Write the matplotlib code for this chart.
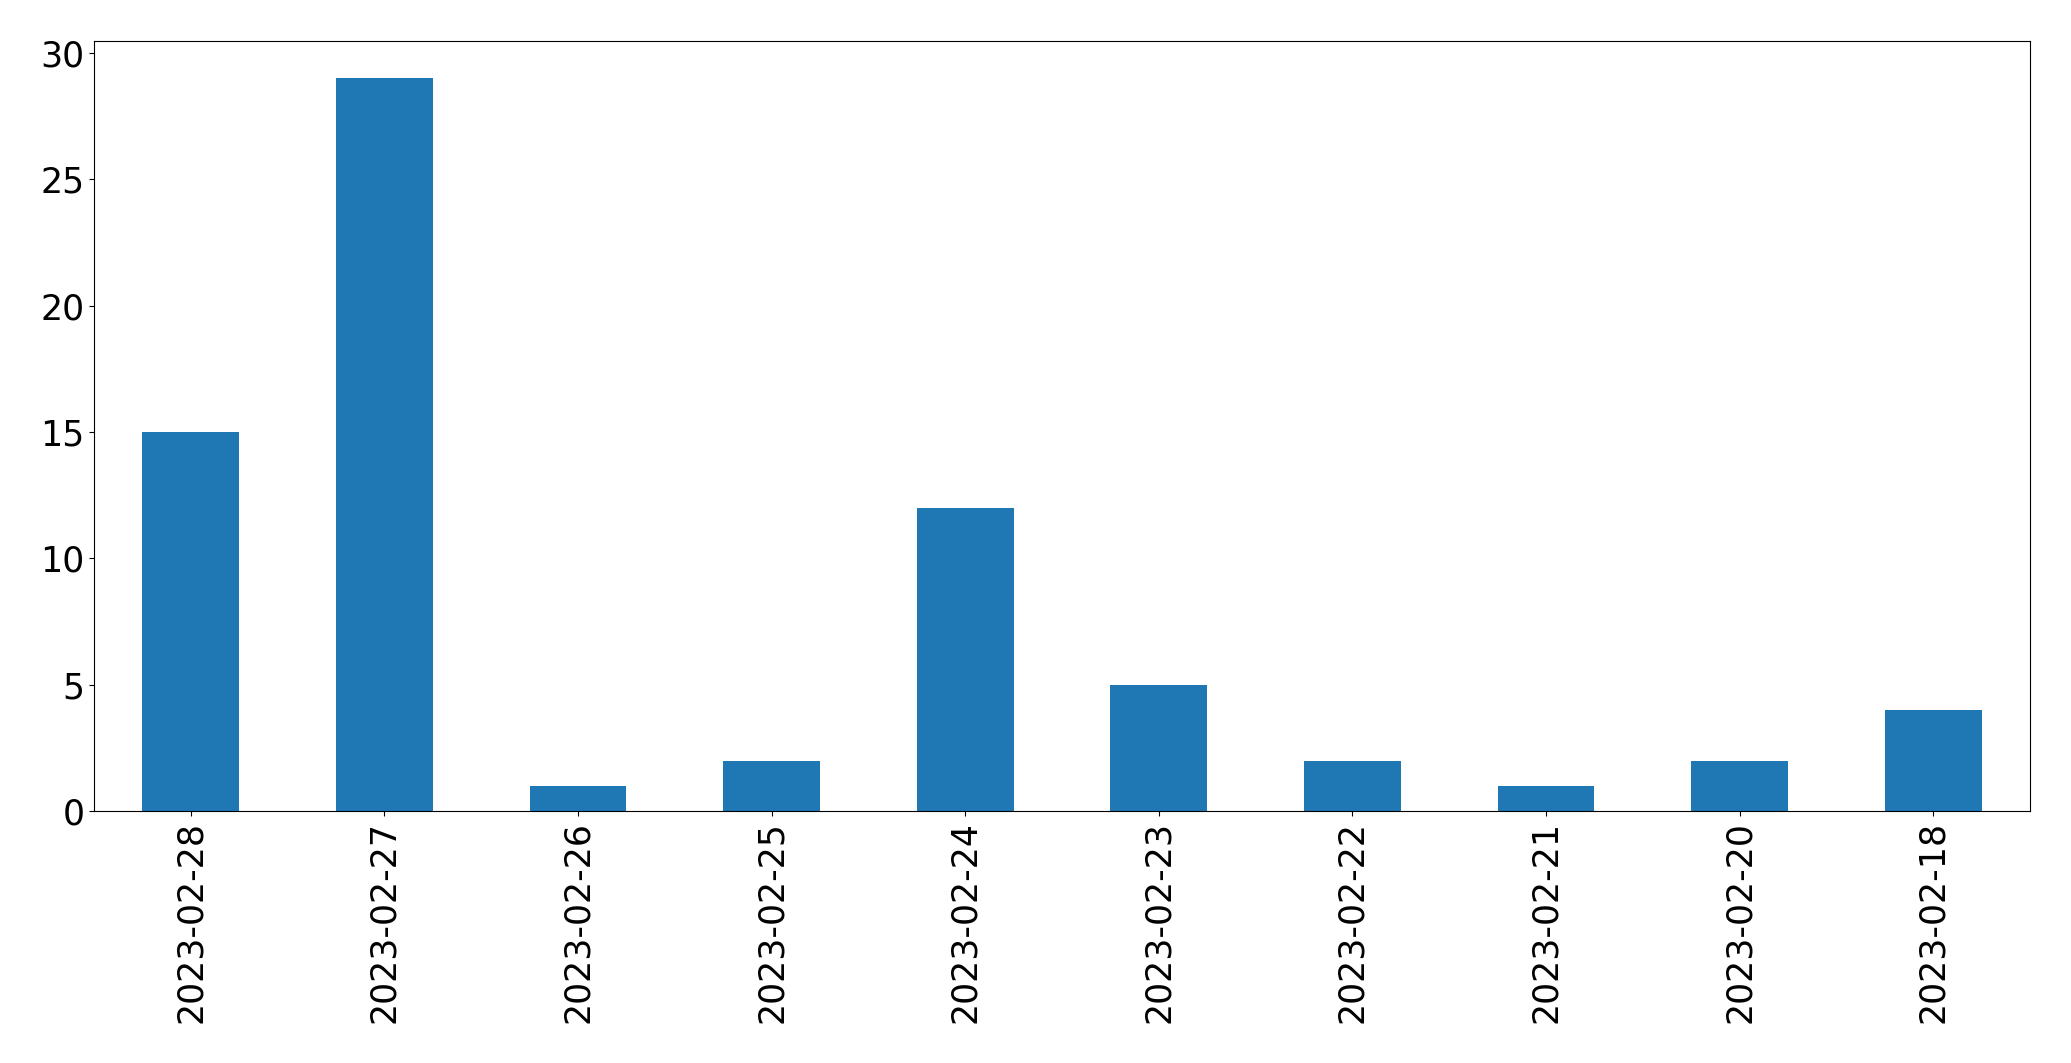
import matplotlib
matplotlib.use('Agg')
import matplotlib.pyplot as plt

# counts per day, newest first
dates = ['2023-02-28', '2023-02-27', '2023-02-26', '2023-02-25', '2023-02-24',
         '2023-02-23', '2023-02-22', '2023-02-21', '2023-02-20', '2023-02-18']
counts = [15, 29, 1, 2, 12, 5, 2, 1, 2, 4]

fig = plt.figure(figsize=(20.71, 10.63), dpi=100)
ax = fig.add_axes([0.0454, 0.237, 0.9348, 0.724])

pos = list(range(len(dates)))
ax.bar(pos, counts, width=0.5, color='#1f77b4')
ax.set_xlim(-0.5, len(dates) - 0.5)
ax.set_ylim(0, max(counts) * 1.05)
ax.set_xticks(pos)
ax.set_xticklabels(dates, rotation=90)
ax.tick_params(axis='both', labelsize=25)

fig.savefig('out.png', dpi=100)
